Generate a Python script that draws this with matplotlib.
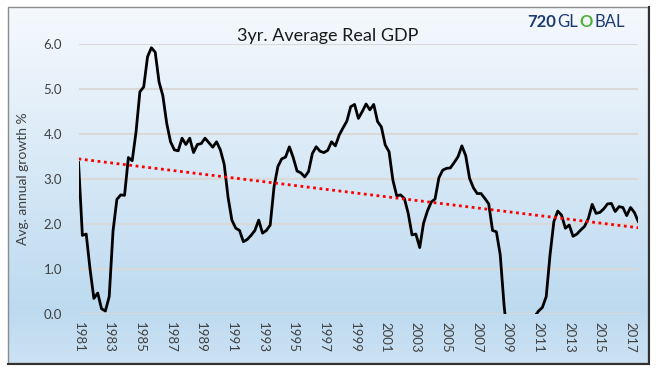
import matplotlib
matplotlib.use("Agg")
import matplotlib.pyplot as plt
import numpy as np
from matplotlib.patches import Rectangle
from matplotlib.lines import Line2D

# 3yr average real GDP growth, quarterly from 1981Q1 to 2017Q3
gdp = [
    3.37, 1.75, 1.78, 1.00, 0.35, 0.47, 0.12, 0.07, 0.39, 1.85,
    2.55, 2.65, 2.64, 3.48, 3.41, 4.05, 4.94, 5.05, 5.72, 5.92,
    5.82, 5.16, 4.85, 4.24, 3.83, 3.65, 3.63, 3.91, 3.77, 3.91,
    3.59, 3.77, 3.79, 3.91, 3.81, 3.71, 3.83, 3.65, 3.33, 2.60,
    2.09, 1.91, 1.86, 1.61, 1.66, 1.75, 1.86, 2.09, 1.80, 1.86,
    1.98, 2.83, 3.28, 3.45, 3.49, 3.72, 3.48, 3.18, 3.14, 3.05,
    3.17, 3.57, 3.72, 3.62, 3.59, 3.64, 3.83, 3.74, 3.98, 4.14,
    4.29, 4.61, 4.66, 4.35, 4.50, 4.67, 4.54, 4.66, 4.28, 4.16,
    3.76, 3.61, 2.98, 2.63, 2.65, 2.57, 2.24, 1.76, 1.78, 1.48,
    2.02, 2.29, 2.49, 2.56, 3.03, 3.20, 3.24, 3.25, 3.37, 3.50,
    3.74, 3.52, 3.02, 2.81, 2.68, 2.68, 2.57, 2.45, 1.86, 1.83,
    1.32, 0.20, -0.60, -1.00, -1.20, -1.10, -0.90, -0.60, -0.30, -0.05,
    0.07, 0.15, 0.39, 1.32, 2.06, 2.29, 2.20, 1.91, 1.98, 1.73,
    1.78, 1.87, 1.95, 2.13, 2.44, 2.24, 2.26, 2.34, 2.45, 2.46,
    2.28, 2.39, 2.37, 2.19, 2.37, 2.26, 2.06,
]
# linear trend line, start and end values
trend = [3.45, 1.92]
year_labels = [str(y) for y in range(1981, 2018, 2)]
y_ticks = [0.0, 1.0, 2.0, 3.0, 4.0, 5.0, 6.0]

plt.rcParams['font.family'] = ['Lato', 'DejaVu Sans']

fig = plt.figure(figsize=(6.6, 3.74), dpi=100)

# gradient background inside the chart frame
bg = fig.add_axes([0.012, 0.029, 0.970, 0.952], zorder=0)
grad = np.linspace(0, 1, 256).reshape(-1, 1)
top = np.array([0.965, 0.978, 0.995])
mid = np.array([0.74, 0.855, 0.94])
bot = np.array([0.80, 0.885, 0.955])
cols = np.where(grad[..., None] < 0.85,
                top + (mid - top) * (grad[..., None] / 0.85),
                mid + (bot - mid) * ((grad[..., None] - 0.85) / 0.15))
bg.imshow(cols, aspect='auto', extent=[0, 1, 0, 1], origin='upper')
bg.set_axis_off()

ax = fig.add_axes([0.119, 0.160, 0.848, 0.722], zorder=2)
ax.set_facecolor('none')

x = np.arange(len(gdp))
ax.plot(x, gdp, color='black', lw=2.0, solid_joinstyle='round', zorder=3)
ax.plot([0, len(gdp) - 1], trend, color='#ff0000', lw=2.0,
        linestyle=(0, (1, 1.3)), zorder=4)

ax.set_xlim(0, len(gdp) - 1)
ax.set_ylim(0, 6)
ax.set_yticks(y_ticks)
ax.set_yticklabels([f'{v:.1f}' for v in y_ticks])
ax.set_xticks(np.arange(0, len(gdp), 8))
ax.set_xticklabels(year_labels, rotation=270)
ax.tick_params(axis='y', length=0, pad=12, labelsize=9.5, labelcolor='#404040')
ax.tick_params(axis='x', length=0, pad=6, labelsize=9.5, labelcolor='#404040')
ax.grid(axis='y', color='#d9d9d9', lw=1.5, zorder=1)
ax.set_axisbelow(True)
for s in ax.spines.values():
    s.set_visible(False)

ax.set_ylabel('Avg. annual growth %', fontsize=10, color='#404040', labelpad=10)

fig.text(0.497, 0.905, '3yr. Average Real GDP', ha='center', va='center',
         fontsize=13, color='#1a1a1a')

# logo, pieces placed one after another
navy = '#1c3d6e'
pieces = [('720', 'bold', navy), ('GL', 'normal', navy),
          ('O', 'bold', '#4caf3a'), ('BAL', 'normal', navy)]
renderer = fig.canvas.get_renderer()
xpos = 527
for txt, weight, col in pieces:
    t = fig.text(xpos / 660, 0.942, txt, fontsize=12, fontweight=weight,
                 color=col, ha='left', va='center')
    bb = t.get_window_extent(renderer)
    xpos = bb.x1 + 1.5

# frame with darker shadow on right and bottom
fig.add_artist(Rectangle((0.012, 0.029), 0.970, 0.952, transform=fig.transFigure,
                         fill=False, edgecolor='#8c8c8c', lw=1.0, zorder=5))
fig.add_artist(Line2D([0.983, 0.983], [0.027, 0.981], transform=fig.transFigure,
                      color='#303030', lw=1.5, zorder=6))
fig.add_artist(Line2D([0.012, 0.983], [0.027, 0.027], transform=fig.transFigure,
                      color='#303030', lw=1.5, zorder=6))

fig.savefig('out.png', dpi=100)
